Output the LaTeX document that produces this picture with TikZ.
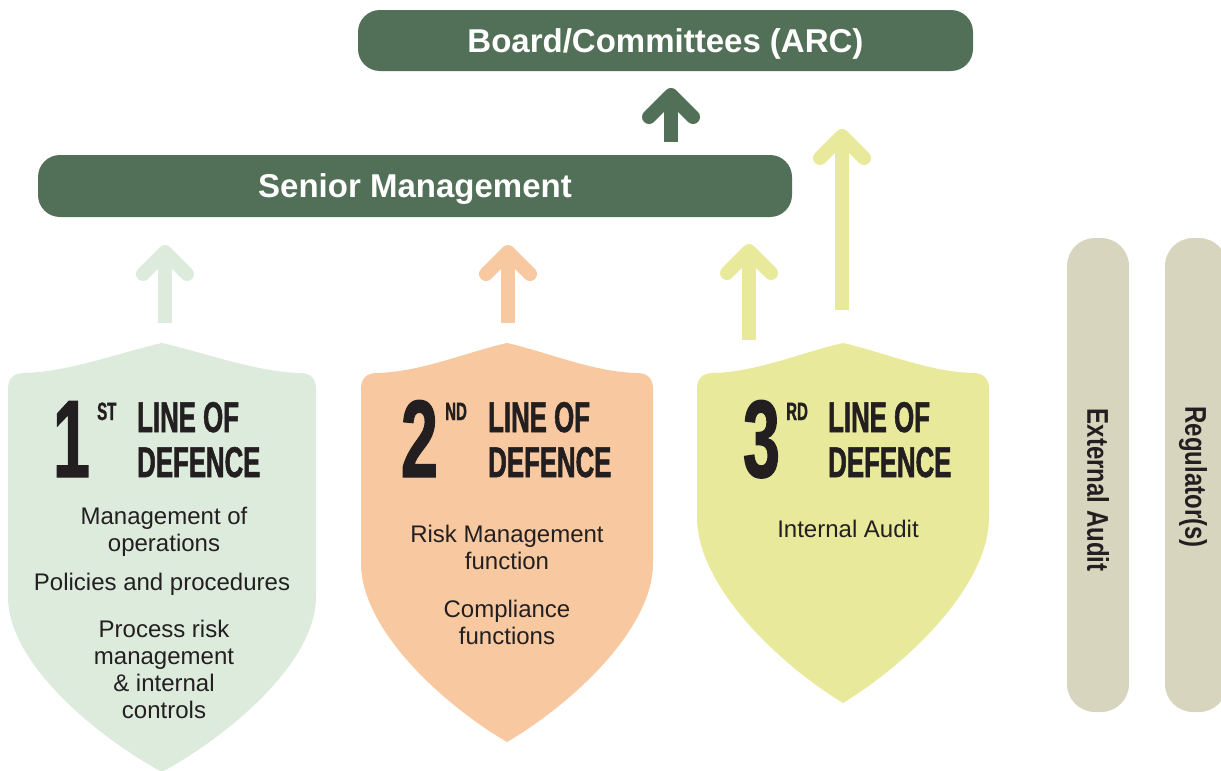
\documentclass[tikz,border=0pt]{standalone}
\usepackage{fontspec}
\setmainfont{Liberation Sans}
\newfontfamily\headfont{Liberation Sans}[FakeStretch=0.6, FakeBold=1.2]
\newfontfamily\barfont{Liberation Sans}[FakeStretch=0.8]
\usetikzlibrary{calc}

\definecolor{boardgreen}{HTML}{526F57}
\definecolor{lineone}{HTML}{DDEBDD}
\definecolor{linetwo}{HTML}{F8C9A0}
\definecolor{linethree}{HTML}{E8E99A}
\definecolor{barkhaki}{HTML}{D7D5BD}
\definecolor{inkdark}{HTML}{231F20}

\tikzset{
  panel/.style={fill=boardgreen, rounded corners=22pt, text=white, inner sep=0pt, text height=23.5pt, text depth=0pt, font=\bfseries\fontsize{33}{36}\selectfont},
  sidebar/.style={fill=barkhaki, rounded corners=28pt, minimum width=62pt, minimum height=474pt, inner sep=0pt},
  sidelabel/.style={rotate=-90, text=inkdark, inner sep=0pt, font=\barfont\bfseries\fontsize{30}{32}\selectfont},
  stem/.style={line width=14pt},
  barb/.style={line width=14pt, line cap=round, line join=round},
  bigdigit/.style={anchor=base east, inner sep=0pt, text=inkdark, font=\headfont\bfseries\fontsize{110}{110}\selectfont},
  ordinal/.style={anchor=base west, inner sep=0pt, text=inkdark, font=\headfont\bfseries\fontsize{25}{25}\selectfont},
  heading/.style={anchor=base west, inner sep=0pt, text=inkdark, font=\headfont\bfseries\fontsize{43}{45}\selectfont},
  duty/.style={align=center, inner sep=0pt, text=inkdark, font=\fontsize{24}{27}\selectfont}
}

\begin{document}
\begin{tikzpicture}[x=1pt,y=-1pt]
\useasboundingbox (0,0) rectangle (1221,771);

% shields
\foreach \lx/\rx/\sy/\by/\col [evaluate=\lx as \mx using (\lx+\rx)/2] in {8/316/597/772/lineone, 361/653/563/742/linetwo, 697/989/517/703/linethree}
  \fill[\col] (\mx,343) .. controls (\mx-40,352) and (\lx+60,372) .. (\lx+16,373)
    .. controls (\lx+5,373) and (\lx,379) .. (\lx,389) -- (\lx,\sy)
    .. controls (\lx,{\sy+0.38*(\by-\sy)}) and ({\mx-0.42*(\mx-\lx)},{\by-0.2*(\by-\sy)}) .. (\mx,\by)
    .. controls ({\mx+0.42*(\mx-\lx)},{\by-0.2*(\by-\sy)}) and (\rx,{\sy+0.38*(\by-\sy)}) .. (\rx,\sy)
    -- (\rx,389) .. controls (\rx,379) and (\rx-5,373) .. (\rx-16,373)
    .. controls (\rx-60,372) and (\mx+40,352) .. (\mx,343) -- cycle;

% headings
\foreach \dx/\sx/\hx/\num/\ord/\n in {90/97/137/1/ST/one, 438/445/488/2/ND/two, 780/786/828/3/RD/three} {
  \node[bigdigit] (\n digit) at (\dx,477) {\num};
  \node[ordinal] (\n ord) at (\sx,420) {\ord};
  \node[heading] (\n line) at (\hx,432) {LINE OF};
  \node[heading] (\n def) at (\hx,477) {DEFENCE};
}

\node[duty] (opsmgmt) at (164,532) {Management of\\operations};
\node[duty] (policies) at (162,584) {Policies and procedures};
\node[duty] (processrisk) at (164,669) {Process risk\\management\\\& internal\\controls};
\node[duty] (riskfn) at (507,547) {Risk Management\\function};
\node[duty] (compliance) at (507,622) {Compliance\\functions};
\node[duty] (intaudit) at (848,529) {Internal Audit};

% boards
\node[panel, minimum width=615pt, minimum height=61pt] (board) at (665.5,40.5) {Board/Committees (ARC)};
\node[panel, minimum width=754pt, minimum height=62pt] (senior) at (415,186) {Senior Management};

\node[sidebar] (extaudit) at (1098,475) {};
\node[sidebar] (regulators) at (1196,475) {};
\node[sidelabel] (extlabel) at (1098,490) {External Audit};
\node[sidelabel] (reglabel) at (1193,477) {Regulator(s)};

% arrows
\coordinate (g0) at (165,323); \coordinate (g1) at (165,252);
\coordinate (o0) at (508,323); \coordinate (o1) at (508,252);
\coordinate (y0) at (749,340); \coordinate (y1) at (749,251);
\coordinate (t0) at (842,310); \coordinate (t1) at (842,136);
\coordinate (d0) at (671,142); \coordinate (d1) at (671,95);
\foreach \a/\col in {g/lineone, o/linetwo, y/linethree, t/linethree, d/boardgreen} {
  \draw[stem,\col] (\a0) -- (\a1);
  \draw[barb,\col] ($(\a1)+(-22,22)$) -- (\a1) -- ($(\a1)+(22,22)$);
}

\end{tikzpicture}
\end{document}
